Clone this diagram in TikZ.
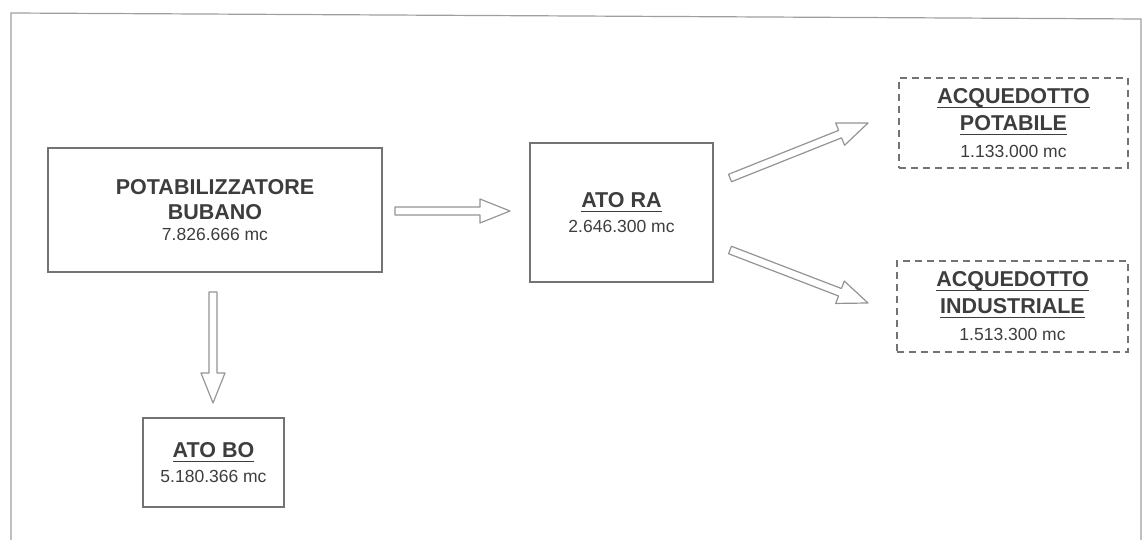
\documentclass[tikz,border=0pt]{standalone}
\usepackage{fontspec}
\setmainfont{Liberation Sans}
\usetikzlibrary{calc}
\definecolor{boxc}{gray}{0.45}
\definecolor{txtc}{gray}{0.24}
\definecolor{arrc}{gray}{0.58}
\definecolor{framec}{gray}{0.62}
\newcommand\ttl{\fontsize{21.5}{25}\selectfont\bfseries}
\newcommand\numf{\fontsize{17.5}{20}\selectfont\mdseries}
\newcommand\ulx[1]{\setbox0\hbox{#1}\rlap{\rule[-4.5pt]{\wd0}{1pt}}\box0}
\newcommand\blockarrow[2]{%
  \coordinate (bah) at ($(#2)!30pt!(#1)$);
  \draw[barrow] ($(#1)!4pt!90:(#2)$) -- ($(bah)!4pt!90:(#2)$) -- ($(bah)!12pt!90:(#2)$) -- (#2)
    -- ($(bah)!12pt!-90:(#2)$) -- ($(bah)!4pt!-90:(#2)$) -- ($(#1)!4pt!-90:(#2)$) -- cycle;}
\tikzset{
  box/.style={draw=boxc, line width=1.1pt, align=center, text=txtc, inner sep=0pt, font=\ttl},
  dbox/.style={box, dash pattern=on 7pt off 5pt},
  barrow/.style={draw=arrc, line width=1.2pt, fill=white, line join=round},
}
\begin{document}
\begin{tikzpicture}[x=1pt,y=-1pt]
\useasboundingbox (0,0) rectangle (1143,540);
\draw[framec, line width=1.2pt] (11,540) -- (11,13) -- (1141,19) -- (1141,540);

\node[box, minimum width=334pt, minimum height=124pt] (pot) at (215,210)
  {POTABILIZZATORE\\BUBANO\\[-4pt]{\numf 7.826.666 mc}};
\node[box, minimum width=183pt, minimum height=139pt] (ra) at (621.5,212.5)
  {\ulx{ATO RA}\\{\numf 2.646.300 mc}};
\node[box, minimum width=141pt, minimum height=89pt] (bo) at (213.5,462.5)
  {\ulx{ATO BO}\\{\numf 5.180.366 mc}};
\node[dbox, minimum width=229pt, minimum height=90pt] (pota) at (1013.5,123)
  {\ulx{ACQUEDOTTO}\\[2pt]\ulx{POTABILE}\\[2pt]{\numf 1.133.000 mc}};
\node[dbox, minimum width=231pt, minimum height=91pt] (ind) at (1012.5,306.5)
  {\ulx{ACQUEDOTTO}\\[2pt]\ulx{INDUSTRIALE}\\[2pt]{\numf 1.513.300 mc}};

\coordinate (a1s) at (395,211);
\coordinate (a1e) at (510,211);
\coordinate (a2s) at (213,292);
\coordinate (a2e) at (213,403);
\coordinate (a3s) at (730,178);
\coordinate (a3e) at (868,123);
\coordinate (a4s) at (730,250);
\coordinate (a4e) at (868,303);
\blockarrow{a1s}{a1e}
\blockarrow{a2s}{a2e}
\blockarrow{a3s}{a3e}
\blockarrow{a4s}{a4e}
\end{tikzpicture}
\end{document}
